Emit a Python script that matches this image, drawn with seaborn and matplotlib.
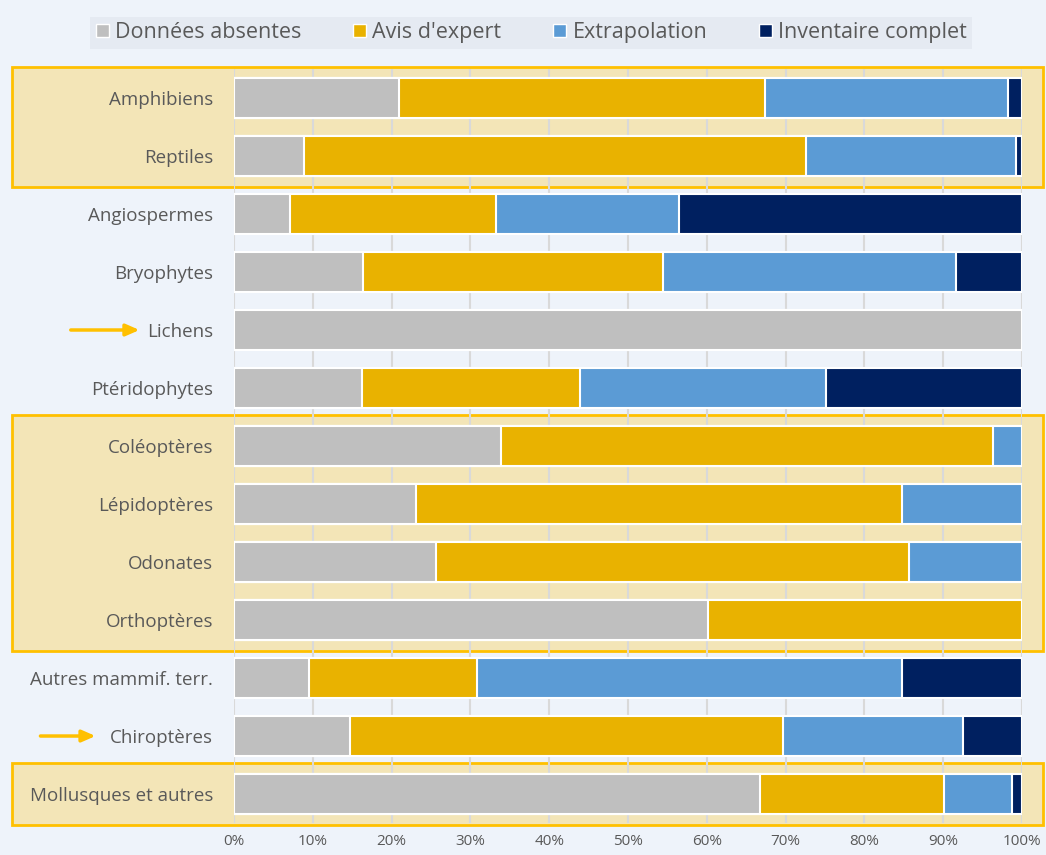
import numpy as np
import pandas as pd
import seaborn as sns
import matplotlib.pyplot as plt
from matplotlib.patches import Patch, Rectangle
from matplotlib import transforms

# data (share of species per assessment method, %)
groups = ["Amphibiens", "Reptiles", "Angiospermes", "Bryophytes", "Lichens",
          "Ptéridophytes", "Coléoptères", "Lépidoptères", "Odonates",
          "Orthoptères", "Autres mammif. terr.", "Chiroptères",
          "Mollusques et autres"]
absentes = [20.9, 8.9, 7.1, 16.4, 100, 16.2, 33.9, 23.1, 25.6, 60.2, 9.5, 14.7, 66.8]
expert = [46.5, 63.7, 26.1, 38.0, 0, 27.7, 62.4, 61.7, 60.1, 39.8, 21.3, 55.0, 23.3]
extrapol = [30.8, 26.6, 23.3, 37.2, 0, 31.2, 3.7, 15.2, 14.3, 0, 54.0, 22.8, 8.7]
inventaire = [1.8, 0.8, 43.5, 8.4, 0, 24.9, 0, 0, 0, 0, 15.2, 7.5, 1.2]

series = ["Données absentes", "Avis d'expert", "Extrapolation", "Inventaire complet"]
colors = ["#BFBFBF", "#E9B200", "#5B9BD5", "#002060"]

highlight_rows = [(0, 1), (6, 9), (12, 12)]
arrow_rows = [4, 11]

df = pd.DataFrame({"groupe": groups, series[0]: absentes, series[1]: expert,
                   series[2]: extrapol, series[3]: inventaire})
cum = df[series].cumsum(axis=1)
cum = cum.div(cum[series[-1]], axis=0) * 100

bg = "#EEF3FA"
txt = "#595959"

sns.set_style("white")
plt.rcParams['font.family'] = ['Open Sans', 'DejaVu Sans']

fig = plt.figure(figsize=(10.46, 8.55), dpi=100, facecolor=bg)
ax = fig.add_axes([0.2237, 0.0374, 0.7533, 0.8819])
ax.set_facecolor("none")

# stacked bars: draw cumulative totals from the last series to the first
for s, c in zip(reversed(series), reversed(colors)):
    sns.barplot(x=cum[s], y=df["groupe"], orient="h", color=c, width=0.7,
                saturation=1, edgecolor="white", linewidth=1.5, ax=ax, zorder=2)

ax.set_xlim(0, 100)
ax.set_ylim(12.5, -0.5)
ax.set_xticks(np.arange(0, 101, 10))
ax.set_xticklabels([f"{v}%" for v in range(0, 101, 10)])
ax.set_xlabel("")
ax.set_ylabel("")
ax.grid(axis="x", color="#D9D9D9", linewidth=1.5, zorder=0.5)
ax.set_axisbelow(True)
for sp in ax.spines.values():
    sp.set_visible(False)
ax.tick_params(axis="y", length=0, pad=15, labelsize=13.5, labelcolor=txt)
ax.tick_params(axis="x", length=0, pad=8, labelsize=11, labelcolor=txt)

# highlighted groups
trans = transforms.blended_transform_factory(fig.transFigure, ax.transData)
for r0, r1 in highlight_rows:
    rect = Rectangle((0.011, r0 - 0.53), 0.986, (r1 - r0) + 1.06, transform=trans,
                     facecolor="#F3E5B7", edgecolor="#FFC000", linewidth=2,
                     clip_on=False, zorder=0)
    ax.add_patch(rect)

# arrows pointing at the two highlighted labels
arrow_x = [(0.065, 0.136), (0.036, 0.094)]
for r, (x0, x1) in zip(arrow_rows, arrow_x):
    ax.annotate("", xy=(x1, r), xytext=(x0, r),
                xycoords=trans, textcoords=trans,
                arrowprops=dict(arrowstyle="-|>,head_length=0.8,head_width=0.35",
                                color="#FFC000", lw=2.5))

handles = [Patch(facecolor=c, edgecolor="white", label=s) for s, c in zip(series, colors)]
leg = fig.legend(handles=handles, loc="upper center", bbox_to_anchor=(0.508, 0.993),
                 ncol=4, frameon=True, fancybox=False, fontsize=15.5,
                 handlelength=0.6, handleheight=0.6, handletextpad=0.3,
                 columnspacing=2.4, borderpad=0.25, labelcolor=txt)
leg.get_frame().set_facecolor("#E3E8F0")
leg.get_frame().set_edgecolor("none")

fig.savefig("out.png", dpi=100, facecolor=bg)
